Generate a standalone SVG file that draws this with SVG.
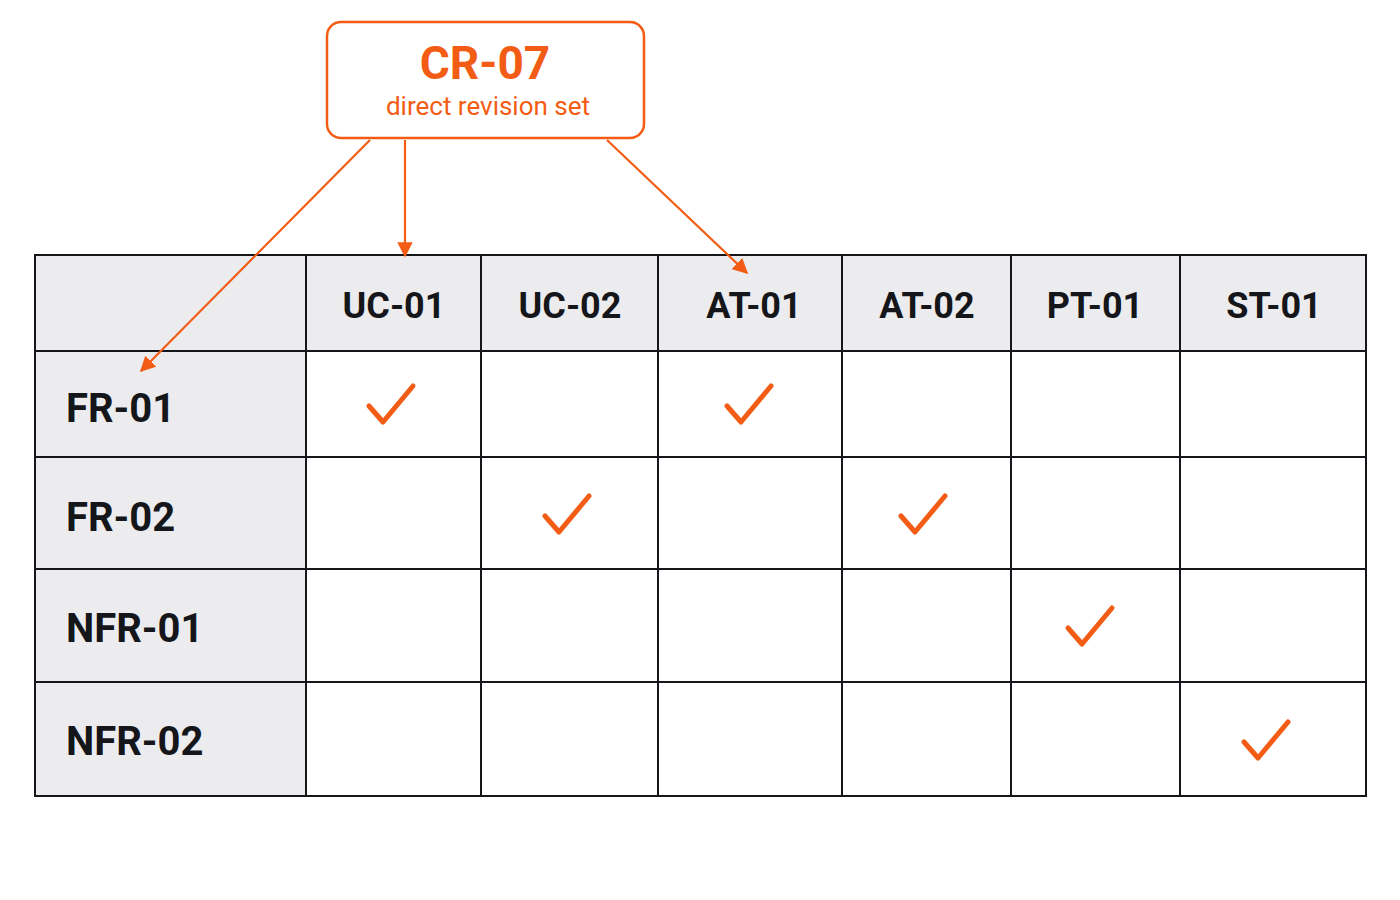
<svg xmlns="http://www.w3.org/2000/svg" width="1400" height="900" viewBox="0 0 1400 900">
<style>
.hd{font-family:Roboto,"Liberation Sans",sans-serif;font-weight:bold;font-size:36px;fill:#15161a}
.rw{font-size:40px}
.c{text-anchor:middle}
.g{fill:#ececef}
.ln{stroke:#15161a;stroke-width:2;fill:none}
.ck{stroke:#f25c14;stroke-width:5;fill:none;stroke-linecap:round;stroke-linejoin:round}
.ar{stroke:#f25c14;stroke-width:2.2;fill:none;marker-end:url(#a)}
</style>
<defs><marker id="a" viewBox="0 0 10 10" refX="9" refY="5" markerWidth="7" markerHeight="7" orient="auto"><path d="M0,0L10,5L0,10z" fill="#f25c14"/></marker>
<path id="k" d="M-22,2L-8,18L22,-18"/></defs>
<rect width="1400" height="900" fill="#fff"/>
<g id="matrix">
<rect x="35" y="255" width="1331" height="96" class="g"/>
<rect x="35" y="351" width="271" height="445" class="g"/>
<rect x="35" y="255" width="1331" height="541" class="ln"/>
<path class="ln" d="M306,255V796M481,255V796M658,255V796M842,255V796M1011,255V796M1180,255V796M35,351H1366M35,457H1366M35,569H1366M35,682H1366"/>
<g class="hd c">
<text x="394" y="318">UC-01</text><text x="570" y="318">UC-02</text><text x="754" y="318">AT-01</text><text x="927" y="318">AT-02</text><text x="1095" y="318">PT-01</text><text x="1274" y="318">ST-01</text></g>
<g class="hd rw">
<text x="66" y="422">FR-01</text><text x="66" y="531">FR-02</text><text x="66" y="642">NFR-01</text><text x="66" y="755">NFR-02</text></g>
<g class="ck">
<use href="#k" x="391" y="404"/><use href="#k" x="749" y="404"/><use href="#k" x="567" y="514"/><use href="#k" x="923" y="514"/><use href="#k" x="1090" y="626"/><use href="#k" x="1266" y="740"/></g>
</g>
<g id="cr07">
<rect x="327" y="22" width="317" height="116" rx="14" fill="#fff" stroke="#f25c14" stroke-width="2.5"/>
<text x="485" y="79" class="c" font-family="Roboto,'Liberation Sans',sans-serif" font-weight="bold" font-size="46" fill="#f25c14">CR-07</text>
<text x="488" y="115" class="c" font-family="Roboto,'Liberation Sans',sans-serif" font-size="26" fill="#f25c14">direct revision set</text>
</g>
<g id="connectors">
<path class="ar" d="M370,140L141,371"/>
<path class="ar" d="M405,140V256"/>
<path class="ar" d="M607,140L747,273"/>
</g>
</svg>
